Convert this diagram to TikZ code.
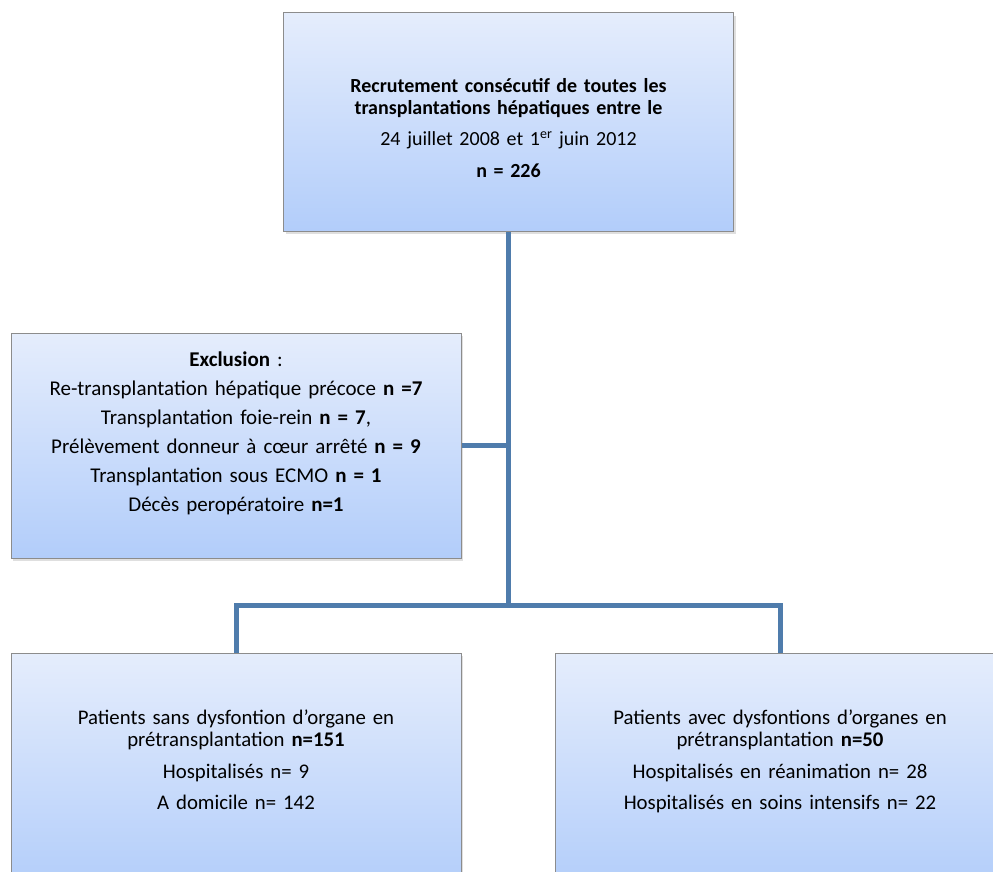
\documentclass[tikz,border=0pt]{standalone}
\usepackage{fontspec}
\setmainfont{Carlito}
\usetikzlibrary{shadows}
\definecolor{boxtop}{RGB}{229,237,252}
\definecolor{boxbottom}{RGB}{178,205,250}
\definecolor{boxline}{RGB}{140,140,140}
\definecolor{linkblue}{RGB}{79,124,172}
\tikzset{
  flowbox/.style={draw=boxline, line width=1pt, top color=boxtop, bottom color=boxbottom,
    drop shadow={opacity=0.25, shadow xshift=2pt, shadow yshift=-3pt},
    inner sep=0pt, text width=450pt, align=center,
    font=\fontsize{20}{22}\selectfont},
  link/.style={draw=linkblue, line width=5pt}
}
\begin{document}
\begin{tikzpicture}[x=1pt, y=-1pt]
    \useasboundingbox (0,0) rectangle (993,872);
    \node [flowbox, text height=80pt, text depth=138pt] (recrut) at (508.5,122)
        {\textbf{Recrutement consécutif de toutes les}\\
         \textbf{transplantations hépatiques entre le}\\[9pt]
         24 juillet 2008 et 1\textsuperscript{er} juin 2012\\[10pt]
         \textbf{n = 226}};
    \node [flowbox, font=\fontsize{21}{22}\selectfont, text height=33pt, text depth=192pt] (exclu) at (236,445.5)
        {\textbf{Exclusion} :\\[7pt]
         Re-transplantation hépatique précoce \textbf{n =7}\\[7pt]
         Transplantation foie-rein \textbf{n = 7},\\[7pt]
         Prélèvement donneur à cœur arrêté \textbf{n = 9}\\[7pt]
         Transplantation sous ECMO \textbf{n = 1}\\[7pt]
         Décès peropératoire \textbf{n=1}};
    \node [flowbox, font=\fontsize{20.8}{22}\selectfont, text height=71pt, text depth=166pt] (sans) at (236,771.5)
        {Patients sans dysfontion d’organe en\\
         prétransplantation \textbf{n=151}\\[10pt]
         Hospitalisés n= 9\\[9pt]
         A domicile n= 142};
    \node [flowbox, font=\fontsize{20.8}{22}\selectfont, text height=71pt, text depth=166pt] (avec) at (780,771.5)
        {Patients avec dysfontions d’organes en\\
         prétransplantation \textbf{n=50}\\[10pt]
         Hospitalisés en réanimation n= 28\\[9pt]
         Hospitalisés en soins intensifs n= 22};
    \coordinate (split) at (508.5,605);
    \draw [link] (recrut.south) -- (split);
    \draw [link] (exclu.east) -- (exclu.east -| split);
    \draw [link] (sans.north) |- (split) -| (avec.north);
\end{tikzpicture}
\end{document}
